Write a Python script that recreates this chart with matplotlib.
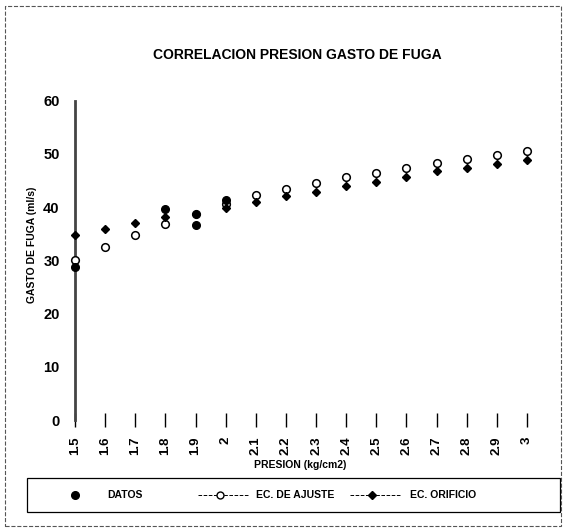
import numpy as np
import matplotlib
matplotlib.use('Agg')
import matplotlib.pyplot as plt
from matplotlib.lines import Line2D
from matplotlib.patches import Rectangle

plt.rcParams['font.family'] = ['Liberation Sans', 'DejaVu Sans']

# categories (pressure, kg/cm2)
presion = ['1.5', '1.6', '1.7', '1.8', '1.9', '2', '2.1', '2.2', '2.3', '2.4',
           '2.5', '2.6', '2.7', '2.8', '2.9', '3']
# measured data (only some points visible)
datos = [28.8, np.nan, np.nan, 39.7, 36.7, 41.4, np.nan, np.nan, np.nan, np.nan,
         np.nan, np.nan, np.nan, np.nan, np.nan, np.nan]
# fitted equation
ec_ajuste = [30.0, 32.6, 34.8, 36.8, 38.7, 40.5, 42.2, 43.4, 44.5, 45.6,
             46.5, 47.3, 48.3, 49.0, 49.8, 50.5]
# orifice equation
ec_orificio = [34.8, 35.8, 37.0, 38.1, 38.8, 39.9, 41.0, 42.1, 42.9, 43.9,
               44.7, 45.6, 46.7, 47.3, 48.1, 48.9]

W, H = 564, 528
fig = plt.figure(figsize=(W / 100, H / 100), dpi=100)
ax = fig.add_axes([75 / W, 1 - 420 / H, (527 - 75) / W, (420 - 100.7) / H])

x = np.arange(len(presion))
ax.plot(x, ec_ajuste, ls='none', marker='o', ms=5.5, mfc='white', mec='black',
        mew=1.1, clip_on=False, zorder=3)
ax.plot(x, ec_orificio, ls='none', marker='D', ms=4.5, color='black',
        clip_on=False, zorder=4)
ax.plot(x, datos, ls='none', marker='o', ms=5.5, color='black',
        clip_on=False, zorder=5)

ax.set_xlim(0, len(presion) - 1)
ax.set_ylim(0, 60)
ax.set_yticks(range(0, 61, 10))
ax.set_xticks(x)
ax.set_xticklabels(presion, rotation=90, fontsize=9.5, fontweight='bold')
for lab in ax.get_yticklabels():
    lab.set_fontsize(10.5)
    lab.set_fontweight('bold')
ax.tick_params(axis='y', length=0, pad=11)
ax.tick_params(axis='x', direction='inout', length=10, width=1, pad=7)

for s in ['top', 'right', 'bottom']:
    ax.spines[s].set_visible(False)
ax.spines['left'].set_color('#444444')
ax.spines['left'].set_linewidth(2)
ax.patch.set_alpha(0)

fig.text(297 / W, 1 - 55 / H, 'CORRELACION PRESION GASTO DE FUGA',
         ha='center', va='center', fontsize=10, fontweight='bold')
fig.text(32 / W, 1 - 245 / H, 'GASTO DE FUGA (ml/s)', rotation=90,
         ha='center', va='center', fontsize=7.5, fontweight='bold')
fig.text(300 / W, 1 - 465 / H, 'PRESION (kg/cm2)',
         ha='center', va='center', fontsize=7.5, fontweight='bold')

# legend, drawn by hand in figure pixels
def fx(px):
    return px / W

def fy(py):
    return 1 - py / H

fig.patches.append(Rectangle((fx(27), fy(512)), (560 - 27) / W, (512 - 478) / H,
                             transform=fig.transFigure, fill=False,
                             edgecolor='black', lw=0.9))
ly = fy(495)
fig.lines.append(Line2D([fx(75)], [ly], ls='none', marker='o', ms=5.5,
                        color='black', transform=fig.transFigure))
fig.text(fx(107), ly, 'DATOS', va='center', fontsize=7.5, fontweight='bold')
fig.lines.append(Line2D([fx(198), fx(248)], [ly, ly], ls='--', lw=0.7,
                        color='black', transform=fig.transFigure))
fig.lines.append(Line2D([fx(220)], [ly], ls='none', marker='o', ms=5,
                        mfc='white', mec='black', mew=1.0,
                        transform=fig.transFigure))
fig.text(fx(256), ly, 'EC. DE AJUSTE', va='center', fontsize=7.5,
         fontweight='bold')
fig.lines.append(Line2D([fx(350), fx(400)], [ly, ly], ls='--', lw=0.7,
                        color='black', transform=fig.transFigure))
fig.lines.append(Line2D([fx(372)], [ly], ls='none', marker='D', ms=4,
                        color='black', transform=fig.transFigure))
fig.text(fx(410), ly, 'EC. ORIFICIO', va='center', fontsize=7.5,
         fontweight='bold')

# outer border of the chart area
fig.patches.append(Rectangle((5 / W, 2 / H), (W - 8) / W, (H - 8) / H,
                             transform=fig.transFigure, fill=False,
                             edgecolor='#555555', lw=0.8, ls='--'))

fig.savefig('out.png', dpi=100)
